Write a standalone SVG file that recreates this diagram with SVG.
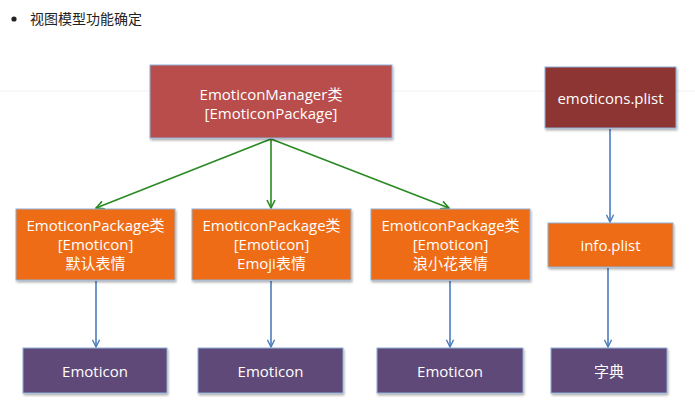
<svg xmlns="http://www.w3.org/2000/svg" width="695" height="415" viewBox="0 0 695 415">
  <defs>
    <marker id="ab" viewBox="0 0 10 10" refX="9" refY="5" markerWidth="9" markerHeight="9" markerUnits="userSpaceOnUse" orient="auto">
      <path d="M1,1 L9,5 L1,9" fill="none" stroke="#4a7ebb" stroke-width="1.6"/>
    </marker>
    <marker id="ag" viewBox="0 0 10 10" refX="9" refY="5" markerWidth="10" markerHeight="10" markerUnits="userSpaceOnUse" orient="auto">
      <path d="M1,1 L9,5 L1,9" fill="none" stroke="#2a8a22" stroke-width="1.6"/>
    </marker>
    <filter id="sh" x="-10%" y="-10%" width="125%" height="130%">
      <feDropShadow dx="1" dy="2" stdDeviation="1.2" flood-color="#000" flood-opacity="0.3"/>
    </filter>
  </defs>
  <style>
    .box { stroke: #8fb0d8; stroke-width: 1; filter: url(#sh); }
    .red { fill: #b84e4b; }
    .dred { fill: #8c3432; }
    .org { fill: #ee6c13; }
    .pur { fill: #5e4878; }
    .t { font-family: "Open Sans", "Liberation Sans", "Noto Sans CJK SC", sans-serif; font-size: 15px; fill: #ffffff; text-anchor: middle; }
    .blue { stroke: #4a7ebb; stroke-width: 1.6; fill: none; marker-end: url(#ab); }
    .green { stroke: #2a8a22; stroke-width: 1.6; fill: none; marker-end: url(#ag); }
  </style>
  <rect width="695" height="415" fill="#ffffff"/>
  <line x1="0" y1="91" x2="695" y2="91" stroke="#f2f2f2" stroke-width="1"/>

  <g id="title">
    <circle cx="14" cy="19" r="2.6" fill="#222"/>
    <text x="30" y="24" font-family="'Noto Sans CJK SC', sans-serif" font-size="14" fill="#222">视图模型功能确定</text>
  </g>

  <g id="connectors">
    <line class="green" x1="271" y1="139" x2="96" y2="208"/>
    <line class="green" x1="271" y1="139" x2="271" y2="208"/>
    <line class="green" x1="271" y1="139" x2="449" y2="208"/>
    <line class="blue" x1="96" y1="281" x2="96" y2="347"/>
    <line class="blue" x1="271" y1="281" x2="271" y2="347"/>
    <line class="blue" x1="450" y1="281" x2="450" y2="347"/>
    <line class="blue" x1="610" y1="129" x2="610" y2="222"/>
    <line class="blue" x1="608" y1="268" x2="608" y2="347"/>
  </g>

  <g id="manager">
    <rect class="box red" x="150" y="65" width="242" height="73"/>
    <text class="t" x="271" y="100" font-size="16">EmoticonManager类</text>
    <text class="t" x="271" y="119" font-size="16">[EmoticonPackage]</text>
  </g>

  <g id="emoticons-plist">
    <rect class="box dred" x="545" y="67" width="131" height="61"/>
    <text class="t" x="610.5" y="104">emoticons.plist</text>
  </g>

  <g id="package1">
    <rect class="box org" x="16" y="209" width="159" height="71"/>
    <text class="t" x="95.5" y="231">EmoticonPackage类</text>
    <text class="t" x="95.5" y="250">[Emoticon]</text>
    <text class="t" x="95.5" y="269">默认表情</text>
  </g>

  <g id="package2">
    <rect class="box org" x="192" y="209" width="159" height="71"/>
    <text class="t" x="271.5" y="231">EmoticonPackage类</text>
    <text class="t" x="271.5" y="250">[Emoticon]</text>
    <text class="t" x="271.5" y="269">Emoji表情</text>
  </g>

  <g id="package3">
    <rect class="box org" x="371" y="209" width="159" height="71"/>
    <text class="t" x="450.5" y="231">EmoticonPackage类</text>
    <text class="t" x="450.5" y="250">[Emoticon]</text>
    <text class="t" x="450.5" y="269">浪小花表情</text>
  </g>

  <g id="info-plist">
    <rect class="box org" x="548" y="223" width="125" height="44"/>
    <text class="t" x="610.5" y="251">info.plist</text>
  </g>

  <g id="emoticon1">
    <rect class="box pur" x="23" y="348" width="144" height="45"/>
    <text class="t" x="95" y="377" font-size="15.5">Emoticon</text>
  </g>
  <g id="emoticon2">
    <rect class="box pur" x="198" y="348" width="145" height="45"/>
    <text class="t" x="270.5" y="377" font-size="15.5">Emoticon</text>
  </g>
  <g id="emoticon3">
    <rect class="box pur" x="377" y="348" width="146" height="45"/>
    <text class="t" x="450" y="377" font-size="15.5">Emoticon</text>
  </g>
  <g id="dict">
    <rect class="box pur" x="551" y="348" width="116" height="45"/>
    <text class="t" x="609" y="377" font-size="15.5">字典</text>
  </g>
</svg>
